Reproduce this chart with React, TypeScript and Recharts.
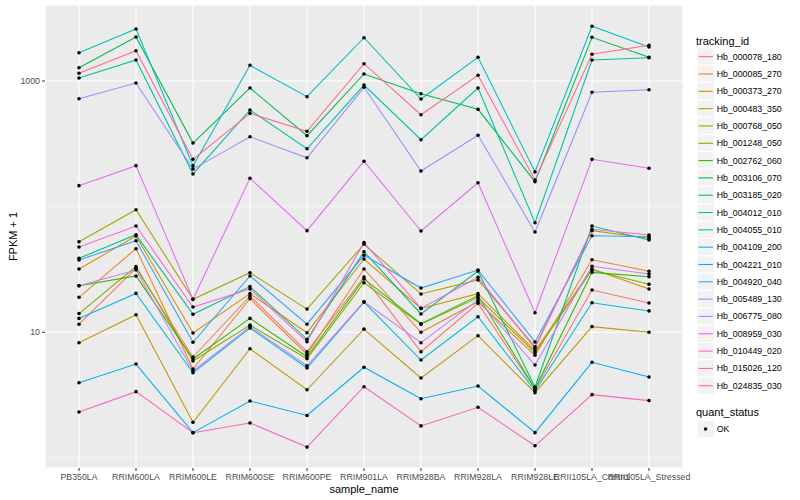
import React from "react";
import {
    LineChart,
    Line,
    XAxis,
    YAxis,
    CartesianGrid,
    ReferenceLine
} from "recharts";

// sample names along x
const sampleNames = [
    "PB350LA", "RRIM600LA", "RRIM600LE", "RRIM600SE", "RRIM600PE", "RRIM901LA",
    "RRIM928BA", "RRIM928LA", "RRIM928LE", "RRII105LA_Control", "RRII105LA_Stressed"
];

const trackingIds = [
    "Hb_000078_180", "Hb_000085_270", "Hb_000373_270", "Hb_000483_350", "Hb_000768_050",
    "Hb_001248_050", "Hb_002762_060", "Hb_003106_070", "Hb_003185_020", "Hb_004012_010",
    "Hb_004055_010", "Hb_004109_200", "Hb_004221_010", "Hb_004920_040", "Hb_005489_130",
    "Hb_006775_080", "Hb_008959_030", "Hb_010449_020", "Hb_015026_120", "Hb_024835_030"
];

const hueColors = [
    "#F8766D", "#EA8331", "#D89000", "#C09B00", "#A3A500", "#7CAE00", "#39B600",
    "#00BB4E", "#00BF7D", "#00C1A3", "#00BFC4", "#00BAE0", "#00B0F6", "#35A2FF",
    "#9590FF", "#C77CFF", "#E76BF3", "#FA62DB", "#FF62BC", "#FF6C91"
];

// FPKM + 1 per sample, one array per gene
const hb000078 = [11.6, 32.3, 6.36, 19.4, 7.01, 27.5, 7.01, 17.0, 3.54, 21.7, 17.1];
const hb000085 = [19.0, 46.3, 5.10, 18.5, 6.68, 31.9, 10.0, 17.5, 6.56, 37.8, 30.6];
const hb000373 = [31.9, 58.4, 9.87, 20.3, 9.93, 38.3, 15.5, 20.3, 7.14, 31.9, 22.1];
const hb000483 = [8.27, 13.8, 1.92, 7.40, 3.49, 10.6, 4.33, 9.40, 3.31, 11.1, 10.0];
const hb000768 = [52.6, 94.6, 18.3, 29.8, 15.3, 50.2, 20.2, 26.1, 7.68, 64.4, 56.0];
const hb001248 = [14.1, 33.3, 5.91, 11.4, 6.16, 24.8, 11.6, 18.9, 6.88, 31.3, 24.1];
const hb002762 = [23.5, 28.1, 6.13, 12.9, 6.39, 26.6, 11.7, 19.6, 3.57, 30.0, 27.7];
const hb003106 = [1276, 2240, 321, 880, 367, 1137, 792, 595, 158, 2227, 1544];
const hb003185 = [38.8, 59.8, 13.9, 23.1, 8.80, 43.8, 14.0, 30.7, 3.67, 70.1, 54.3];
const hb004012 = [1056, 1469, 182, 588, 289, 929, 341, 880, 74.5, 1469, 1532];
const hb004055 = [1680, 2593, 211, 1333, 750, 2211, 719, 1544, 189, 2725, 1865];
const hb004109 = [12.9, 20.4, 4.77, 10.8, 5.20, 17.4, 6.02, 13.3, 3.43, 17.2, 14.8];
const hb004221 = [3.97, 5.59, 1.59, 2.84, 2.18, 5.27, 2.96, 3.74, 1.59, 5.77, 4.41];
const hb004920 = [37.6, 53.6, 8.33, 28.1, 11.6, 41.0, 22.5, 31.3, 8.38, 58.7, 57.7];
const hb005489 = [723, 964, 199, 360, 245, 891, 192, 370, 62.9, 813, 852];
const hb006775 = [23.5, 31.3, 4.92, 11.1, 5.42, 17.5, 8.27, 18.1, 5.49, 33.5, 29.1];
const hb008959 = [147, 212, 18.3, 168, 64.4, 230, 64.0, 155, 14.3, 238, 202];
const hb010449 = [47.7, 70.1, 15.9, 22.1, 8.42, 51.7, 15.5, 27.4, 7.46, 66.0, 59.5];
const hb015026 = [2.32, 3.37, 1.59, 1.90, 1.22, 3.69, 1.80, 2.53, 1.25, 3.19, 2.86];
const hb024835 = [1152, 1743, 238, 553, 398, 1373, 539, 1110, 163, 1632, 1924];

const seriesValues = [
    hb000078, hb000085, hb000373, hb000483, hb000768, hb001248, hb002762,
    hb003106, hb003185, hb004012, hb004055, hb004109, hb004221, hb004920,
    hb005489, hb006775, hb008959, hb010449, hb015026, hb024835
];

const yTicks = [10, 1000];
const yMinor = [1, 100];

const rows = sampleNames.map((name, i) => {
    const row: any = {sample: name};
    trackingIds.forEach((id, k) => {
        row[id] = seriesValues[k][i];
    });
    return row;
});

const font = "'Liberation Sans', Arial, Helvetica, sans-serif";

const KeyLegend = () => {
    const top = 48;
    const step = 17.32;
    return (
        <svg width={110} height={500} style={{position: "absolute", left: 690, top: 0, fontFamily: font}}>
            <text x={6} y={40.7} fontSize={11} dominantBaseline="central" fill="#000">tracking_id</text>
            {trackingIds.map((id, i) => {
                const cy = top + i * step + step / 2;
                return (
                    <g key={id}>
                        <rect x={7} y={cy - step / 2} width={17.3} height={step} fill="#F2F2F2" stroke="#FFFFFF" strokeWidth={1}/>
                        <line x1={8.5} x2={22.8} y1={cy} y2={cy} stroke={hueColors[i]} strokeWidth={1.1}/>
                        <text x={26.7} y={cy} fontSize={8.8} dominantBaseline="central" fill="#000">{id}</text>
                    </g>
                );
            })}
            <text x={6} y={411.7} fontSize={11} dominantBaseline="central" fill="#000">quant_status</text>
            <rect x={7} y={429 - 8.66} width={17.3} height={17.3} fill="#F2F2F2" stroke="#FFFFFF" strokeWidth={1}/>
            <circle cx={15.6} cy={429} r={1.8} fill="#000"/>
            <text x={26.7} y={429} fontSize={8.8} dominantBaseline="central" fill="#000">OK</text>
        </svg>
    );
};

const App = () => {
    return (
        <div style={{position: "absolute", left: 0, top: 0, width: 800, height: 500, background: "#fff"}}>
            <LineChart
                width={800}
                height={500}
                data={rows}
                margin={{top: 5, right: 117, bottom: 0, left: 0}}
                style={{fontFamily: font}}
            >
                <CartesianGrid fill="#EBEBEB" stroke="#FFFFFF" strokeWidth={1.07}/>
                {yMinor.map(v => (
                    <ReferenceLine key={v} y={v} stroke="#FFFFFF" strokeWidth={0.53}/>
                ))}
                <XAxis
                    dataKey="sample"
                    type="category"
                    interval={0}
                    padding={{left: 34, right: 34}}
                    height={32}
                    axisLine={false}
                    tickSize={3}
                    tickMargin={3}
                    tickLine={{stroke: "#333333"}}
                    tick={{fill: "#4D4D4D", fontSize: 8.8}}
                    label={{
                        content: () => (
                            <text x={364} y={488.5} textAnchor="middle" dominantBaseline="central" fontSize={11} fill="#000">sample_name</text>
                        )
                    }}
                />
                <YAxis
                    type="number"
                    scale="log"
                    domain={[0.832, 4026]}
                    allowDataOverflow
                    ticks={yTicks}
                    width={45}
                    axisLine={false}
                    tickSize={3}
                    tickMargin={2}
                    tickLine={{stroke: "#333333"}}
                    tick={{fill: "#4D4D4D", fontSize: 8.8}}
                    label={{
                        content: () => (
                            <text x={13} y={236.5} transform="rotate(-90 13 236.5)" textAnchor="middle" dominantBaseline="central" fontSize={11} fill="#000">FPKM + 1</text>
                        )
                    }}
                />
                {trackingIds.map((id, k) => (
                    <Line
                        key={id}
                        dataKey={id}
                        type="linear"
                        stroke={hueColors[k]}
                        strokeWidth={1.07}
                        dot={false}
                        activeDot={false}
                        isAnimationActive={false}
                    />
                ))}
                {trackingIds.map(id => (
                    <Line
                        key={id + "_pt"}
                        dataKey={id}
                        type="linear"
                        stroke="none"
                        dot={{r: 1.8, fill: "#000000", stroke: "none"}}
                        activeDot={false}
                        isAnimationActive={false}
                    />
                ))}
            </LineChart>
            <KeyLegend/>
        </div>
    );
};

export default App;
